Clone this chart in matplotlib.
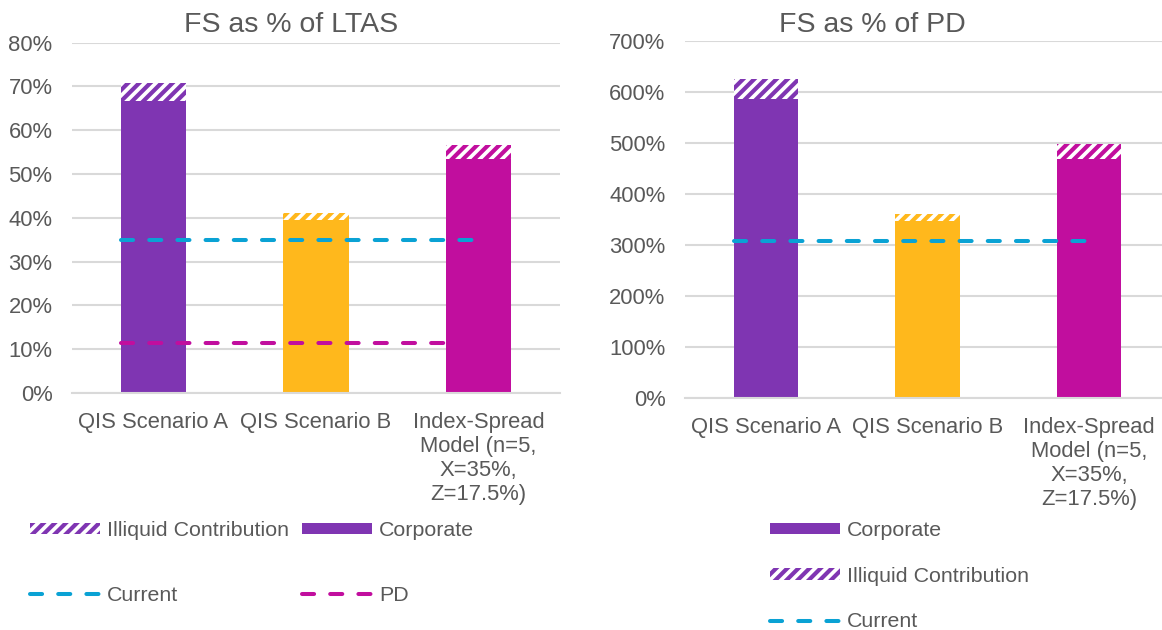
import numpy as np
import matplotlib.pyplot as plt
from matplotlib.patches import Patch
from matplotlib.lines import Line2D

# data
categories = ["QIS Scenario A", "QIS Scenario B",
              "Index-Spread\nModel (n=5,\nX=35%,\nZ=17.5%)"]

ltas_corporate = [66.6, 39.4, 53.5]
ltas_total = [70.9, 41.0, 56.7]
ltas_current = 34.9
ltas_pd = 11.4

pd_corporate = [586, 346, 469]
pd_total = [624, 360, 497]
pd_current = 307

# x span of the dashed reference lines (category units)
current_span = [-0.2, 2.0]
pd_span = [-0.2, 1.8]

bar_colors = ["#7F35B2", "#FFB81C", "#C10E9E"]
current_color = "#0AA2D4"
pd_color = "#C10E9E"
text_color = "#595959"
grid_color = "#D9D9D9"

plt.rcParams['font.family'] = ['Liberation Sans', 'DejaVu Sans']
plt.rcParams['hatch.linewidth'] = 3.0

W, H = 1162, 630
fig = plt.figure(figsize=(W / 100, H / 100), dpi=100)
FS = 15.8
LEG_FS = 15.4
HATCH = "///"


def draw_panel(ax, corporate, total, ymax, ystep, current, pd_value=None):
    x = np.arange(len(categories))
    illiquid = np.array(total) - np.array(corporate)
    ax.bar(x, corporate, width=0.4, color=bar_colors, linewidth=0, zorder=2)
    for xi, base, h, c in zip(x, corporate, illiquid, bar_colors):
        ax.bar(xi, h, bottom=base, width=0.4, facecolor="white", edgecolor=c,
               hatch=HATCH, linewidth=0, zorder=2)
    ax.plot(current_span, [current, current], color=current_color, lw=2.9,
            dashes=(3, 4), dash_capstyle="round", zorder=3)
    if pd_value is not None:
        ax.plot(pd_span, [pd_value, pd_value], color=pd_color, lw=2.9,
                dashes=(3, 4), dash_capstyle="round", zorder=3)

    ax.set_xlim(-0.5, 2.5)
    ax.set_ylim(0, ymax)
    yt = np.arange(0, ymax + ystep / 2, ystep)
    ax.set_yticks(yt)
    ax.set_yticklabels([f"{int(v)}%" for v in yt])
    ax.set_xticks(x)
    ax.set_xticklabels(categories, linespacing=1.18)
    ax.yaxis.grid(True, color=grid_color, lw=1.5, zorder=0)
    ax.set_axisbelow(True)
    for s in ["top", "right", "left"]:
        ax.spines[s].set_visible(False)
    ax.spines["bottom"].set_color(grid_color)
    ax.spines["bottom"].set_linewidth(1.5)
    ax.tick_params(axis="both", length=0, labelsize=FS, colors=text_color)
    ax.tick_params(axis="y", pad=14)
    ax.tick_params(axis="x", pad=14)


ax1 = fig.add_axes([72 / W, 1 - 393 / H, 488 / W, (393 - 42.7) / H])
draw_panel(ax1, ltas_corporate, ltas_total, 80, 10, ltas_current, ltas_pd)

ax2 = fig.add_axes([685 / W, 1 - 397.7 / H, 485 / W, 357 / H])
draw_panel(ax2, pd_corporate, pd_total, 700, 100, pd_current)

fig.text(291 / W, 1 - 25 / H, "FS as % of LTAS", ha="center", va="center",
         fontsize=20.5, color=text_color)
fig.text(872 / W, 1 - 25 / H, "FS as % of PD", ha="center", va="center",
         fontsize=20.5, color=text_color)

# legend handles
corp_h = Patch(facecolor=bar_colors[0], linewidth=0)
illiq_h = Patch(facecolor="white", edgecolor=bar_colors[0], hatch=HATCH, linewidth=0)
cur_h = Line2D([], [], color=current_color, lw=2.9, dashes=(3, 4), dash_capstyle="round")
pd_h = Line2D([], [], color=pd_color, lw=2.9, dashes=(3, 4), dash_capstyle="round")

leg_kw = dict(frameon=False, fontsize=LEG_FS, labelcolor=text_color,
              handlelength=3.27, handleheight=0.47, handletextpad=0.33,
              borderpad=0, borderaxespad=0, loc="upper left")

fig.legend([illiq_h, cur_h, corp_h, pd_h],
           ["Illiquid Contribution", "Current", "Corporate", "PD"],
           ncol=2, columnspacing=0.6, labelspacing=2.15,
           bbox_to_anchor=(30 / W, 1 - 521 / H), **leg_kw)

fig.legend([corp_h, illiq_h, cur_h],
           ["Corporate", "Illiquid Contribution", "Current"],
           ncol=1, labelspacing=1.25,
           bbox_to_anchor=(770 / W, 1 - 521 / H), **leg_kw)

fig.savefig("out.png", dpi=100)
